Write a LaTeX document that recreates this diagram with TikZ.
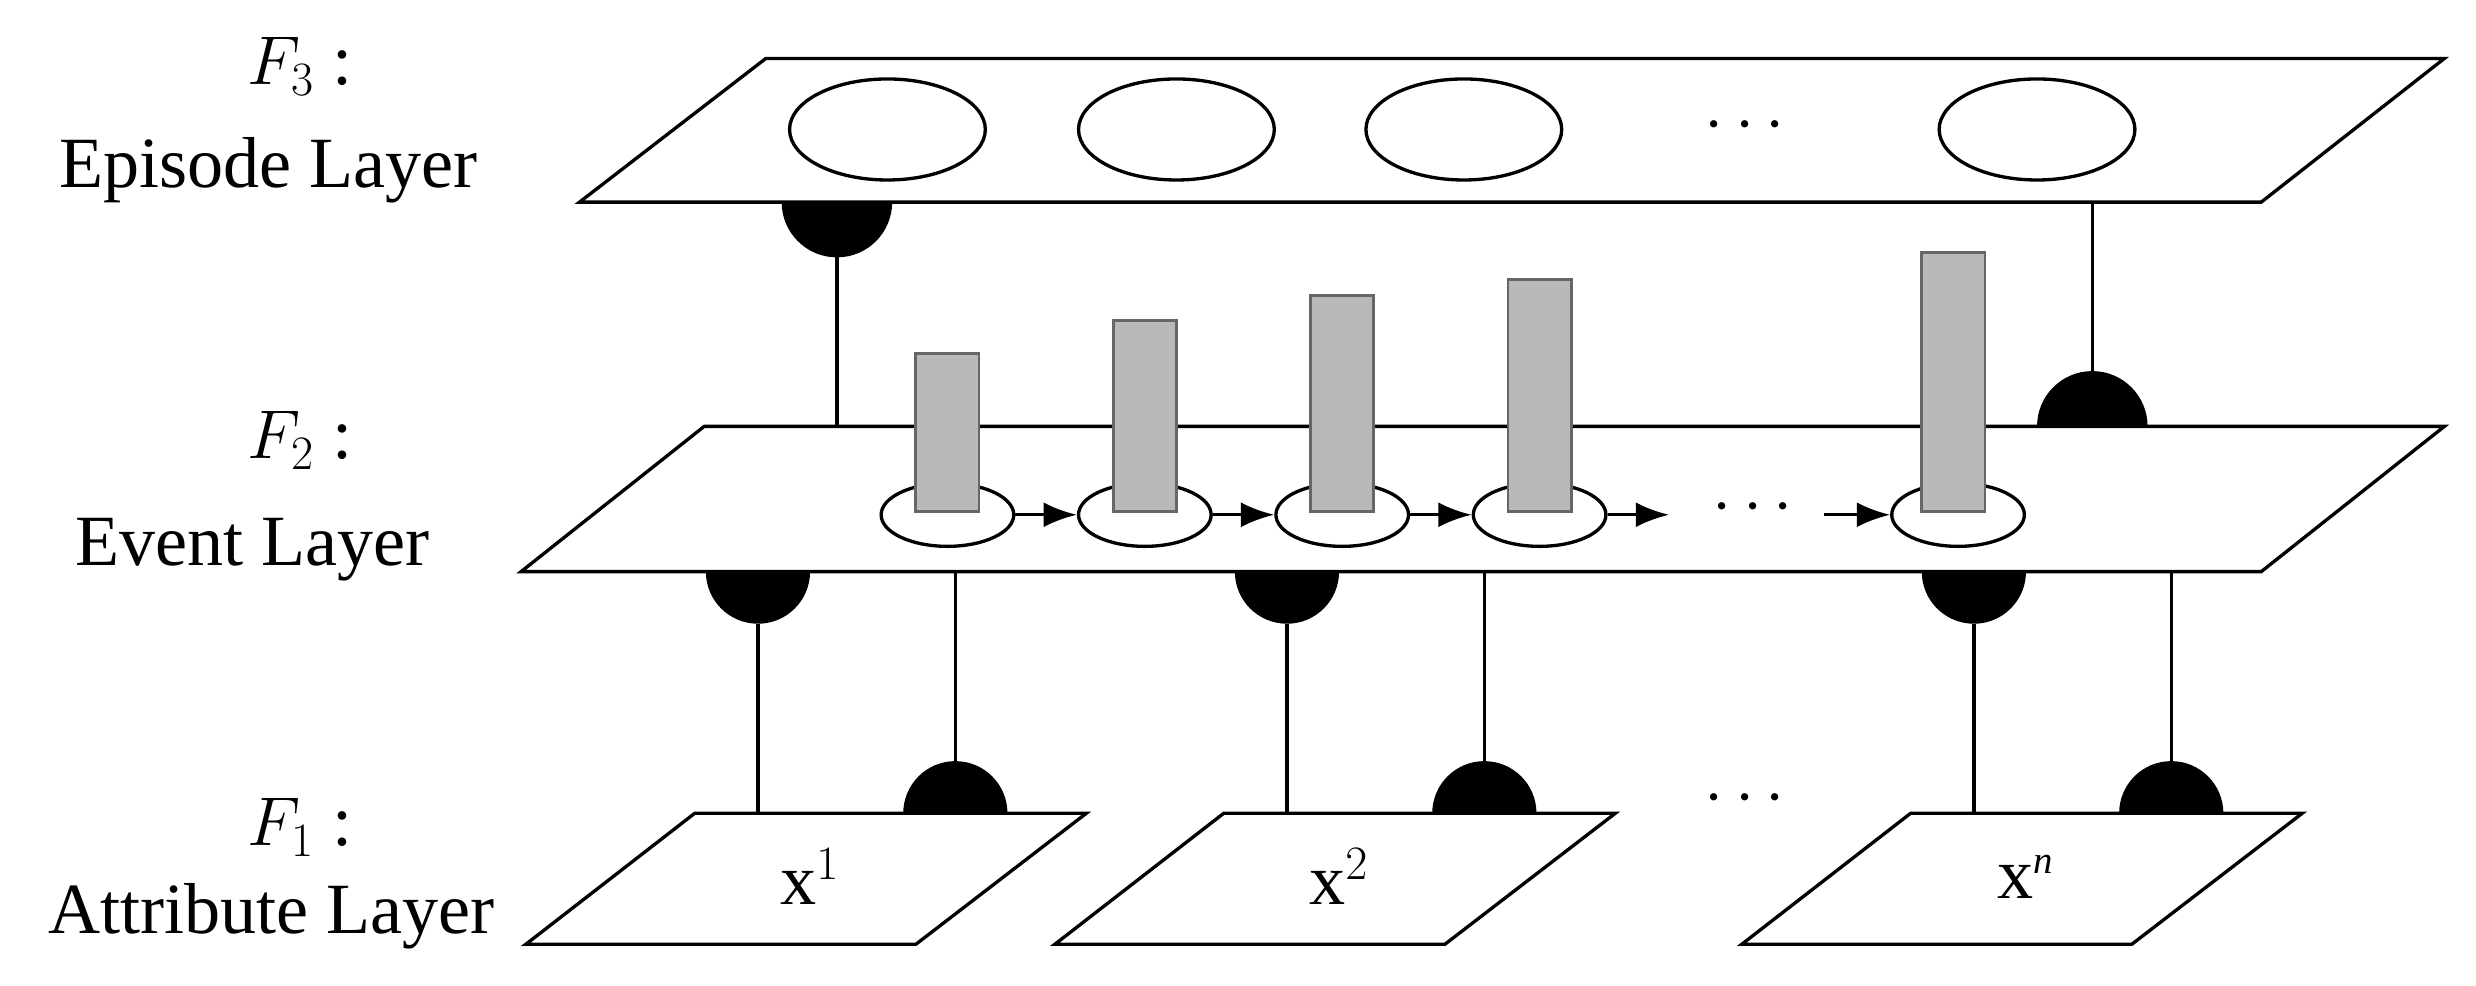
\documentclass[tikz,border=0pt]{standalone}
\usepackage{fontspec}
\usetikzlibrary{shapes.geometric,arrows.meta}
\setmainfont{Liberation Serif}
\begin{document}
\begin{tikzpicture}[x=0.02cm,y=-0.02cm,
  plane/.style={draw,line width=1.2pt,fill=white},
  ell/.style={draw,line width=1.2pt,fill=white,ellipse},
  bar/.style={draw=gray!80!black,line width=1pt,fill=gray!55},
  con/.style={line width=1.2pt},
  arr/.style={line width=1.2pt,-{Latex[length=12pt,width=9pt]}},
  lbl/.style={font=\fontsize{26}{30}\selectfont,inner sep=0pt},
  every node/.style={inner sep=0pt}]
\useasboundingbox (0,0) rectangle (1568,624);
% episode plane
\draw[plane] (485,37) -- (1548,37) -- (1432,128) -- (367,128) -- cycle;
\foreach \x/\n in {562/e1,745/e2,927/e3,1290/e4}
  \node[ell,minimum width=2.48cm,minimum height=1.28cm] (\n) at (\x,82) {};
\node[lbl] (edots) at (1105,80) {$\cdots$};
% semicircles + lines episode-event
\fill (495,128) arc[start angle=180,end angle=0,radius=35] -- cycle;
\coordinate (s1) at (530,163);
\coordinate (s1b) at (530,270);
\draw[con] (s1) -- (s1b);
\fill (1290,270) arc[start angle=180,end angle=360,radius=35] -- cycle;
\coordinate (s2) at (1325,235);
\coordinate (s2b) at (1325,128);
\draw[con] (s2) -- (s2b);
% event plane
\draw[plane] (446,270) -- (1548,270) -- (1432,362) -- (330,362) -- cycle;
\foreach \x/\n in {600/v1,725/v2,850/v3,975/v4,1240/v5}
  \node[ell,minimum width=1.68cm,minimum height=0.8cm] (\n) at (\x,326) {};
\foreach \x/\t in {600/224,725/203,850/187,975/177,1237/160}
  \draw[bar] (\x-20,\t) rectangle (\x+20,324);
\draw[arr] (v1.east) -- (v2.west);
\draw[arr] (v2.east) -- (v3.west);
\draw[arr] (v3.east) -- (v4.west);
\coordinate (a4) at (1057,326);
\draw[arr] (v4.east) -- (a4);
\node[lbl] (vdots) at (1110,322) {$\cdots$};
\coordinate (a5) at (1155,326);
\draw[arr] (a5) -- (v5.west);
% event - attribute connections
\foreach \x in {480,815,1250}{
  \fill (\x-33,362) arc[start angle=180,end angle=0,radius=33] -- cycle;
  \draw[con] (\x,395) -- (\x,515);}
\foreach \x in {605,940,1375}{
  \fill (\x-33,515) arc[start angle=180,end angle=360,radius=33] -- cycle;
  \draw[con] (\x,482) -- (\x,362);}
% attribute planes
\foreach \d/\n/\s in {0/p1/1,335/p2/2,770/p3/n}{
  \draw[plane] (440+\d,515) -- (688+\d,515) -- (580+\d,598) -- (333+\d,598) -- cycle;
  \node[lbl] (\n) at (513+\d,555) {x$^{\fontsize{14}{14}\selectfont \if\s n\textit{n}\else\s\fi}$};}
\node[lbl] (adots) at (1105,506) {$\cdots$};
% left labels
\node[lbl] (f3) at (190,42) {$F_3$ :};
\node[lbl] (l3) at (170,108) {Episode Layer};
\node[lbl] (f2) at (190,279) {$F_2$ :};
\node[lbl] (l2) at (160,348) {Event Layer};
\node[lbl] (f1) at (190,524) {$F_1$ :};
\node[lbl] (l1) at (172,580) {Attribute Layer};
\end{tikzpicture}
\end{document}
